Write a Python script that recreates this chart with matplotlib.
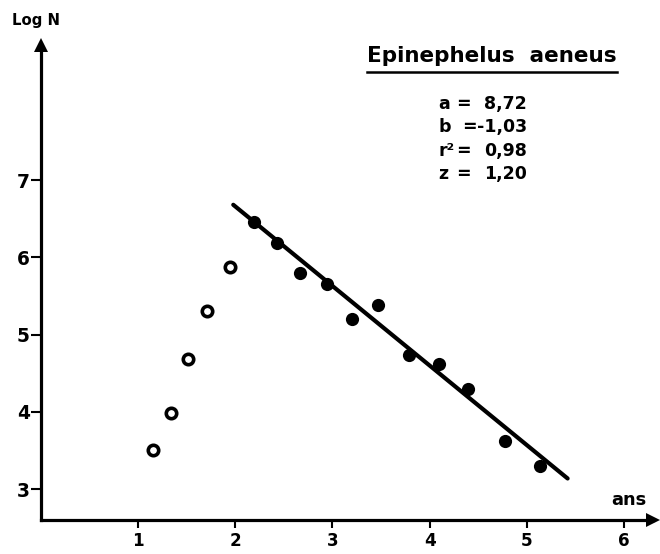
import matplotlib
matplotlib.use('Agg')
import matplotlib.pyplot as plt
from matplotlib.lines import Line2D
from matplotlib import font_manager
import numpy as np

# ---- data ----
ages_open = [1.15, 1.34, 1.51, 1.71, 1.95]
logn_open = [3.50, 3.99, 4.68, 5.30, 5.87]
ages_filled = [2.19, 2.43, 2.67, 2.94, 3.20, 3.47, 3.79, 4.10, 4.39, 4.78, 5.14]
logn_filled = [6.46, 6.19, 5.80, 5.65, 5.20, 5.38, 4.74, 4.62, 4.29, 3.62, 3.30]
fit_a = 8.72
fit_b = -1.03
fit_range = [1.98, 5.42]
x_ticks = [1, 2, 3, 4, 5, 6]
y_ticks = [3, 4, 5, 6, 7]
species = "Epinephelus  aeneus"
stat_names = ["a", "b", "r²", "z"]
stat_values = ["8,72", "-1,03", "0,98", "1,20"]
y_label = "Log N"
x_label = "ans"

# pick a condensed bold face if one is installed
names = {f.name for f in font_manager.fontManager.ttflist}
condensed = False
if 'Liberation Sans Narrow' in names:
    FONT = ['Liberation Sans Narrow', 'DejaVu Sans']
    condensed = True
elif 'DejaVu Sans Condensed' in names:
    FONT = ['DejaVu Sans Condensed', 'DejaVu Sans']
    condensed = True
else:
    FONT = ['DejaVu Sans']
plt.rcParams['font.family'] = FONT
plt.rcParams['font.weight'] = 'bold'
k = 1.0 if condensed else 0.85   # shrink factor when only a wide face exists

W, H = 660, 554
fig = plt.figure(figsize=(W / 100, H / 100), dpi=100)
fig.patch.set_facecolor('white')

x0, x1 = 0.0, 6.3
y0, y1 = 2.6, 8.75
px_per_x = 97.2
px_per_y = 77.25
left_px, bottom_px = 40.8, 520
ax = fig.add_axes([left_px / W, 1 - bottom_px / H,
                   (x1 - x0) * px_per_x / W, (y1 - y0) * px_per_y / H])
ax.set_xlim(x0, x1)
ax.set_ylim(y0, y1)
ax.patch.set_alpha(0)

for s in ['top', 'right']:
    ax.spines[s].set_visible(False)
for s in ['left', 'bottom']:
    ax.spines[s].set_linewidth(2.3)
    ax.spines[s].set_color('black')

# arrow heads
ax.plot([0], [y1], marker='^', ms=10, color='black', clip_on=False, mew=0)
ax.plot([x1], [y0], marker='>', ms=10, color='black', clip_on=False, mew=0)

ax.set_xticks(x_ticks)
ax.set_yticks(y_ticks)
ax.set_xticklabels([str(v) for v in x_ticks], fontsize=13 * k + 1, fontweight='bold')
ax.set_yticklabels([str(v) for v in y_ticks], fontsize=14 * k + 1.5, fontweight='bold')
ax.tick_params(axis='x', direction='out', length=6, width=1.5, pad=3)
ax.tick_params(axis='y', direction='out', length=7, width=1.5, pad=1)

# points
ax.plot(ages_open, logn_open, linestyle='none', marker='o', ms=7.5,
        mfc='white', mec='black', mew=2.6)
ax.plot(ages_filled, logn_filled, linestyle='none', marker='o', ms=9.5,
        color='black', mew=0)

# regression line
xf = np.array(fit_range)
ax.plot(xf, fit_a + fit_b * xf, color='black', lw=3, solid_capstyle='round')

# labels
fig.text(36 / W, 1 - 21 / H, y_label, fontsize=12 * k + 0.5, fontweight='bold',
         ha='center', va='center')
fig.text(629 / W, 1 - 500 / H, x_label, fontsize=15 * k, fontweight='bold',
         ha='center', va='center')

title = fig.text(492 / W, 1 - 62 / H, species, fontsize=21 if condensed else 15.5,
                 fontweight='bold', ha='center', va='baseline')
fig.canvas.draw()
bb = title.get_window_extent()
uy = 1 - 72 / H
fig.add_artist(Line2D([bb.x0 / W, bb.x1 / W], [uy, uy],
                      transform=fig.transFigure, color='black', lw=1.8))

line_y = [104, 127, 151, 174]
fs = 15 if condensed else 12.5
for name, val, yy in zip(stat_names, stat_values, line_y):
    fig.text(438 / W, 1 - yy / H, name, fontsize=fs, fontweight='bold',
             ha='left', va='center')
    eq_x = 469 if val.startswith('-') else 463
    fig.text(eq_x / W, 1 - yy / H, "=", fontsize=fs, fontweight='bold',
             ha='center', va='center')
    fig.text(527 / W, 1 - yy / H, val, fontsize=fs, fontweight='bold',
             ha='right', va='center')

fig.savefig('out.png', dpi=100, facecolor='white')
